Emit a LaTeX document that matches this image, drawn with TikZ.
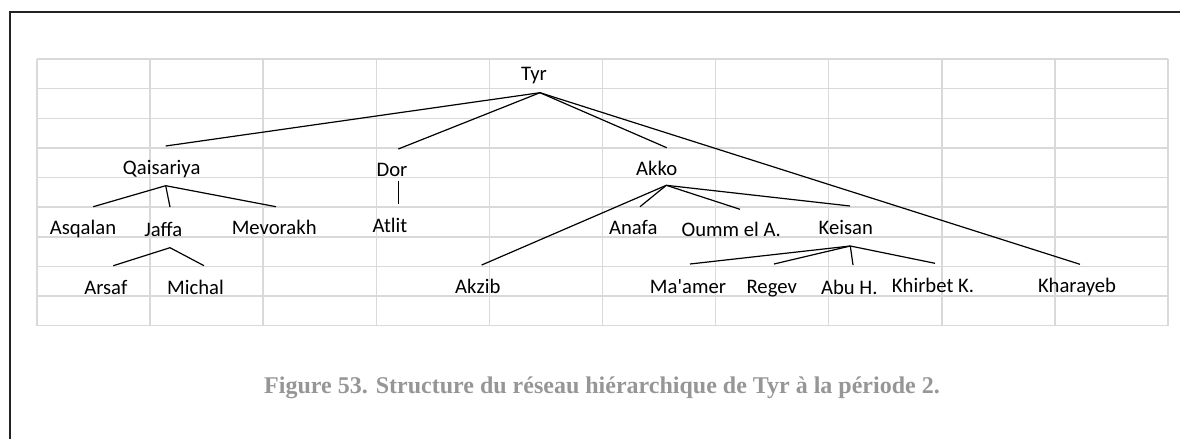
\documentclass[tikz,border=0pt]{standalone}
\usepackage{fontspec}
\setmainfont{Carlito}
\newfontfamily\capfont{Liberation Serif}
\definecolor{gridgray}{RGB}{217,217,217}
\definecolor{capgray}{RGB}{150,150,150}
\definecolor{framegray}{RGB}{35,35,35}

\begin{document}
\begin{tikzpicture}[x=0.75pt, y=-0.75pt,
    site/.style={anchor=base, inner sep=0pt, font=\fontsize{15.5}{18}\selectfont},
    link/.style={line width=0.9pt, black}]
    \useasboundingbox (0,0) rectangle (1180,439);

    % Frame (only the top and left edges are in view)
    \draw[line width=1.5pt, framegray] (9.5,439) -- (9.5,12) -- (1180,12);

    % Spreadsheet grid
    \foreach \gx in {0,...,10}
        \draw[gridgray, line width=1.1pt] ({37+113.1*\gx},59) -- ({37+113.1*\gx},325.7);
    \foreach \gy in {0,...,9}
        \draw[gridgray, line width=1.1pt] (37,{59+29.63*\gy}) -- (1168,{59+29.63*\gy});

    % Sites
    \node[site] (tyr) at (534,80) {Tyr};
    \node[site] (qaisariya) at (161.7,174) {Qaisariya};
    \node[site] (dor) at (392,176.7) {Dor};
    \node[site] (akko) at (656.7,175) {Akko};
    \node[site] (asqalan) at (83,234.3) {Asqalan};
    \node[site] (jaffa) at (163.3,236) {Jaffa};
    \node[site] (mevorakh) at (274.2,234.3) {Mevorakh};
    \node[site] (atlit) at (390,232.3) {Atlit};
    \node[site] (anafa) at (633.3,234) {Anafa};
    \node[site] (oumm) at (731.2,236.7) {Oumm el A.};
    \node[site] (keisan) at (845.8,234) {Keisan};
    \node[site] (arsaf) at (105.8,294.3) {Arsaf};
    \node[site] (michal) at (195.5,294.3) {Michal};
    \node[site] (akzib) at (477.8,293.3) {Akzib};
    \node[site] (maamer) at (688,293.3) {Ma\textquotesingle amer};
    \node[site] (regev) at (771.7,293.3) {Regev};
    \node[site] (abuh) at (849.3,294) {Abu H.};
    \node[site] (khirbet) at (933,292.3) {Khirbet K.};
    \node[site] (kharayeb) at (1077,292.3) {Kharayeb};

    % Fork points under each centre
    \coordinate (tyr-fork) at (540,92.7);
    \coordinate (qaisariya-fork) at (165.7,185.7);
    \coordinate (dor-fork) at (398.3,180.7);
    \coordinate (jaffa-fork) at (170,247.7);
    \coordinate (akko-fork) at (666.3,185.3);
    \coordinate (keisan-fork) at (850.3,246);

    % Line ends above each site
    \coordinate (qaisariya-top) at (165.7,146);
    \coordinate (dor-top) at (398.3,149);
    \coordinate (akko-top) at (666.7,147.7);
    \coordinate (kharayeb-top) at (1080,264.3);
    \coordinate (asqalan-top) at (93.3,206.7);
    \coordinate (jaffa-top) at (170,207);
    \coordinate (mevorakh-top) at (276,206.7);
    \coordinate (atlit-top) at (398.3,204.3);
    \coordinate (arsaf-top) at (113.3,265.7);
    \coordinate (michal-top) at (204,265.7);
    \coordinate (akzib-top) at (481.7,265);
    \coordinate (anafa-top) at (640,206.7);
    \coordinate (oumm-top) at (740,209.3);
    \coordinate (keisan-top) at (850,206);
    \coordinate (maamer-top) at (690,264);
    \coordinate (regev-top) at (774,264);
    \coordinate (abuh-top) at (853,265);
    \coordinate (khirbet-top) at (935,263.3);

    % Tyr
    \draw[link] (tyr-fork) -- (qaisariya-top);
    \draw[link] (tyr-fork) -- (dor-top);
    \draw[link] (tyr-fork) -- (akko-top);
    \draw[link] (tyr-fork) -- (kharayeb-top);
    % Qaisariya and Jaffa
    \draw[link] (qaisariya-fork) -- (asqalan-top);
    \draw[link] (qaisariya-fork) -- (jaffa-top);
    \draw[link] (qaisariya-fork) -- (mevorakh-top);
    \draw[link] (jaffa-fork) -- (arsaf-top);
    \draw[link] (jaffa-fork) -- (michal-top);
    % Dor
    \draw[link] (dor-fork) -- (atlit-top);
    % Akko and Keisan
    \draw[link] (akko-fork) -- (akzib-top);
    \draw[link] (akko-fork) -- (anafa-top);
    \draw[link] (akko-fork) -- (oumm-top);
    \draw[link] (akko-fork) -- (keisan-top);
    \draw[link] (keisan-fork) -- (maamer-top);
    \draw[link] (keisan-fork) -- (regev-top);
    \draw[link] (keisan-fork) -- (abuh-top);
    \draw[link] (keisan-fork) -- (khirbet-top);

    % Caption
    \node[anchor=base, inner sep=0pt, text=capgray, font=\capfont\bfseries\fontsize{18}{21}\selectfont]
        (caption) at (602,393.3) {Figure 53. Structure du réseau hiérarchique de Tyr à la période 2.};

\end{tikzpicture}
\end{document}
